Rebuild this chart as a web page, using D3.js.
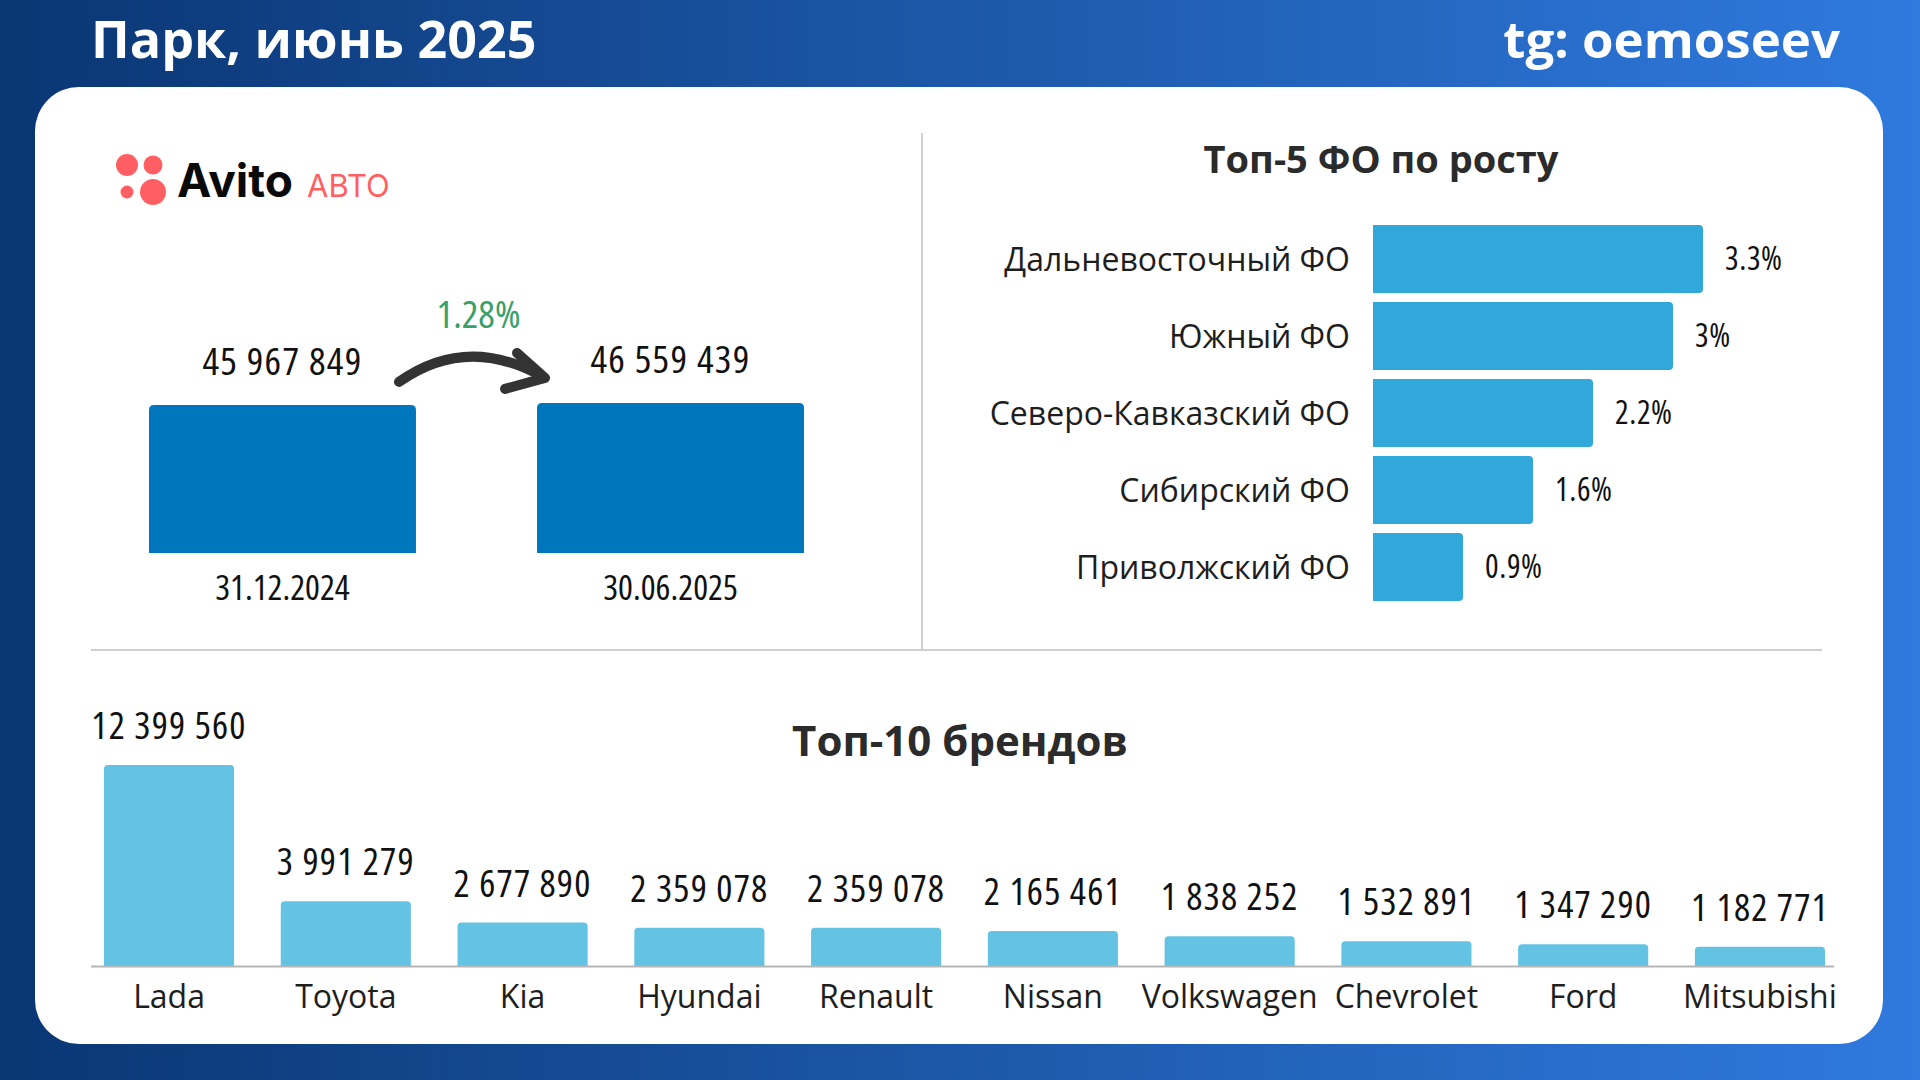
<!DOCTYPE html>
<html>
<head>
<meta charset="utf-8">
<script src="https://cdn.jsdelivr.net/npm/d3@7"></script>
<style>
  body { margin: 0; background: #fff; }
  svg { display: block; }
  .num { font-family: "Open Sans", sans-serif; font-stretch: 75%; font-weight: 400; fill: #111; }
  .cat { font-family: "Open Sans", sans-serif; fill: #1e1e1e; }
  .ttl { font-family: "Open Sans", sans-serif; font-weight: 700; fill: #2b2b2b; }
</style>
</head>
<body>
<svg id="main-svg" width="1920" height="1080"></svg>
<script>
// park totals (left block)
let parkDates = ["31.12.2024", "30.06.2025"];
let parkValues = [45967849, 46559439];
let parkGrowth = "1.28%";

// top-5 federal districts by growth, %
let foNames = ["Дальневосточный ФО", "Южный ФО", "Северо-Кавказский ФО", "Сибирский ФО", "Приволжский ФО"];
let foGrowth = [3.3, 3.0, 2.2, 1.6, 0.9];

// top-10 brands
let brands = ["Lada", "Toyota", "Kia", "Hyundai", "Renault", "Nissan", "Volkswagen", "Chevrolet", "Ford", "Mitsubishi"];
let brandValues = [12399560, 3991279, 2677890, 2359078, 2359078, 2165461, 1838252, 1532891, 1347290, 1182771];

let width = 1920, height = 1080;
let svg = d3.select("#main-svg");
let fmtSpace = v => d3.format(",")(v).replace(/,/g, " ");

// path with rounded corners only on the "top" end (dir: "up" or "right")
function roundedBar(x, y, w, h, r, dir) {
    r = Math.min(r, w / 2, h / 2);
    if (dir == "right") {
        return "M" + x + "," + y + "H" + (x + w - r) + "Q" + (x + w) + "," + y + " " + (x + w) + "," + (y + r) +
            "V" + (y + h - r) + "Q" + (x + w) + "," + (y + h) + " " + (x + w - r) + "," + (y + h) + "H" + x + "Z";
    }
    return "M" + x + "," + (y + h) + "V" + (y + r) + "Q" + x + "," + y + " " + (x + r) + "," + y +
        "H" + (x + w - r) + "Q" + (x + w) + "," + y + " " + (x + w) + "," + (y + r) + "V" + (y + h) + "Z";
}

// ---- background + card
let defs = svg.append("defs");
let bg = defs.append("linearGradient").attr("id", "bg-grad")
    .attr("x1", "0%").attr("y1", "0%").attr("x2", "100%").attr("y2", "0%");
bg.append("stop").attr("offset", "0%").attr("stop-color", "#0a3673");
bg.append("stop").attr("offset", "100%").attr("stop-color", "#2f7ade");
svg.append("rect").attr("width", width).attr("height", height).attr("fill", "url(#bg-grad)");

svg.append("rect")
    .attr("x", 35).attr("y", 87).attr("width", 1848).attr("height", 957)
    .attr("rx", 44).attr("fill", "#fff");

svg.append("text").attr("x", 91).attr("y", 58)
    .style("font-family", "Open Sans").style("font-weight", 700).style("font-size", "52px")
    .attr("fill", "#fff").text("Парк, июнь 2025");
svg.append("text").attr("x", 1840).attr("y", 58).attr("text-anchor", "end")
    .style("font-family", "Open Sans").style("font-weight", 700).style("font-size", "51px")
    .attr("fill", "#fff").text("tg: oemoseev");

// dividers
svg.append("line").attr("x1", 922).attr("x2", 922).attr("y1", 133).attr("y2", 651)
    .attr("stroke", "#cfcfcf").attr("stroke-width", 2);
svg.append("line").attr("x1", 91).attr("x2", 1822).attr("y1", 650).attr("y2", 650)
    .attr("stroke", "#cfcfcf").attr("stroke-width", 2);

// ---- Avito logo
let logo = svg.append("g");
[[127, 165, 11], [153, 165, 9.5], [127, 192, 6.5], [153, 192, 13]].forEach(function (c) {
    logo.append("circle").attr("cx", c[0]).attr("cy", c[1]).attr("r", c[2]).attr("fill", "#ff5f62");
});
logo.append("text").attr("x", 177).attr("y", 197)
    .style("font-family", "Inter, 'Open Sans'").style("font-weight", 700).style("font-size", "46px")
    .attr("fill", "#0a0a0a").text("Avito");
logo.append("text").attr("x", 307).attr("y", 197)
    .style("font-family", "Inter, 'Open Sans'").style("font-weight", 400).style("font-size", "31px")
    .attr("fill", "#ff5f62").text("АВТО");

// ---- left block: park
let parkX = d3.scaleBand().domain(parkDates).range([149, 804]).paddingInner(0.312);
let parkY = d3.scaleLinear().domain([0, d3.max(parkValues)]).range([553, 403]);
let parkG = svg.append("g");

parkG.selectAll("path.bar").data(parkDates).enter().append("path")
    .attr("class", "bar")
    .attr("d", (d, i) => roundedBar(parkX(d), parkY(parkValues[i]), parkX.bandwidth(), parkY(0) - parkY(parkValues[i]), 5, "up"))
    .attr("fill", "#0077bc");

parkG.selectAll("text.val").data(parkDates).enter().append("text")
    .attr("class", "num")
    .attr("x", d => parkX(d) + parkX.bandwidth() / 2)
    .attr("y", (d, i) => parkY(parkValues[i]) - 30)
    .attr("text-anchor", "middle").style("font-size", "39px").style("letter-spacing", "1.3px")
    .text((d, i) => fmtSpace(parkValues[i]));

parkG.selectAll("text.date").data(parkDates).enter().append("text")
    .attr("class", "num")
    .attr("x", d => parkX(d) + parkX.bandwidth() / 2)
    .attr("y", parkY(0) + 47)
    .attr("text-anchor", "middle").style("font-size", "35px")
    .text(d => d);

// growth arrow between the two bars
let ax0 = parkX(parkDates[0]) + parkX.bandwidth() - 17;
let ax1 = parkX(parkDates[1]) + 8;
let ay = parkY(parkValues[0]) - 23;
parkG.append("path")
    .attr("d", "M" + ax0 + "," + ay + " Q" + ((ax0 + ax1) / 2 - 5) + "," + (ay - 48) + " " + (ax1 - 2) + "," + (ay - 5))
    .attr("fill", "none").attr("stroke", "#333").attr("stroke-width", 10).attr("stroke-linecap", "round");
parkG.append("path")
    .attr("d", "M" + (ax1 - 28) + "," + (ay - 29) + " L" + ax1 + "," + (ay - 4) + " L" + (ax1 - 40) + "," + (ay + 7))
    .attr("fill", "none").attr("stroke", "#333").attr("stroke-width", 10)
    .attr("stroke-linecap", "round").attr("stroke-linejoin", "round");

parkG.append("text").attr("class", "num")
    .attr("x", (parkX(parkDates[0]) + parkX.bandwidth() + parkX(parkDates[1])) / 2 + 2)
    .attr("y", 328).attr("text-anchor", "middle").style("font-size", "39px")
    .style("fill", "#3a9f68").text(parkGrowth);

// ---- top-5 FO
let foX = d3.scaleLinear().domain([0, 3.3]).range([1373, 1703]);
let foY = d3.scaleBand().domain(foNames).range([225, 601]).paddingInner(0.117);
let foG = svg.append("g");

foG.append("text").attr("class", "ttl")
    .attr("x", 1381).attr("y", 173).attr("text-anchor", "middle").style("font-size", "38px")
    .text("Топ-5 ФО по росту");

foG.selectAll("path.bar").data(foNames).enter().append("path")
    .attr("class", "bar")
    .attr("d", (d, i) => roundedBar(foX(0), foY(d), foX(foGrowth[i]) - foX(0), foY.bandwidth(), 4, "right"))
    .attr("fill", "#31a8da");

foG.selectAll("text.val").data(foNames).enter().append("text")
    .attr("class", "num")
    .attr("x", (d, i) => foX(foGrowth[i]) + 22)
    .attr("y", d => foY(d) + foY.bandwidth() / 2 + 11)
    .style("font-size", "32px").style("letter-spacing", "0.6px")
    .text((d, i) => d3.format("~g")(foGrowth[i]) + "%");

foG.selectAll("text.cat").data(foNames).enter().append("text")
    .attr("class", "cat")
    .attr("x", foX(0) - 23)
    .attr("y", d => foY(d) + foY.bandwidth() / 2 + 12)
    .attr("text-anchor", "end").style("font-size", "32px")
    .text(d => d);

// ---- top-10 brands
let brX = d3.scaleBand().domain(brands).range([104, 1825]).paddingInner(0.264);
let brY = d3.scaleLinear().domain([0, d3.max(brandValues)]).range([966, 765]);
let brG = svg.append("g");

brG.append("text").attr("class", "ttl")
    .attr("x", 960).attr("y", 756).attr("text-anchor", "middle").style("font-size", "42px")
    .text("Топ-10 брендов");

brG.selectAll("path.bar").data(brands).enter().append("path")
    .attr("class", "bar")
    .attr("d", (d, i) => roundedBar(brX(d), brY(brandValues[i]), brX.bandwidth(), brY(0) - brY(brandValues[i]), 4, "up"))
    .attr("fill", "#64c2e2");

brG.append("line").attr("x1", 91).attr("x2", 1834).attr("y1", brY(0) + 0.5).attr("y2", brY(0) + 0.5)
    .attr("stroke", "#b5b5b5").attr("stroke-width", 2);

brG.selectAll("text.val").data(brands).enter().append("text")
    .attr("class", "num")
    .attr("x", d => brX(d) + brX.bandwidth() / 2)
    .attr("y", (d, i) => brY(brandValues[i]) - 26)
    .attr("text-anchor", "middle").style("font-size", "38px").style("letter-spacing", "1.2px")
    .text((d, i) => fmtSpace(brandValues[i]));

brG.selectAll("text.cat").data(brands).enter().append("text")
    .attr("class", "cat")
    .attr("x", d => brX(d) + brX.bandwidth() / 2)
    .attr("y", 1008)
    .attr("text-anchor", "middle").style("font-size", "32px")
    .text(d => d);
</script>
</body>
</html>
